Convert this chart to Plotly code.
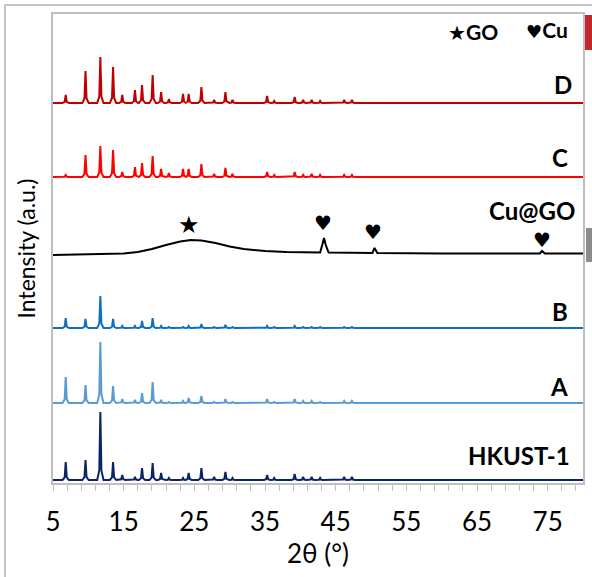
import plotly.graph_objects as go

# ---------------- data ----------------
peak_pos = [6.8, 9.6, 11.7, 13.5, 14.8, 16.6, 17.6, 19.1, 20.3, 21.4, 23.4, 24.2,
            26.0, 27.8, 29.4, 30.4, 35.3, 36.3, 39.2, 40.4, 41.6, 42.8, 46.2, 47.3]

hkust_h = [18, 20, 68, 18, 5, 3, 12, 17, 7, 2, 2, 7, 12, 3, 8, 2, 5, 2, 6, 3, 3, 2, 3, 3]
a_h     = [26, 18, 61, 17, 4, 3, 10, 21, 3, 1, 2, 5, 7, 1, 4, 1, 4, 1, 4, 2, 2, 1, 2, 2]
b_h     = [10, 9, 32, 9, 2, 2, 7, 10, 2, 1, 1, 2, 4, 1, 3, 1, 2, 1, 2, 1, 1, 1, 1, 1]
c_h     = [2, 22, 31, 27, 5, 10, 14, 21, 8, 4, 8, 8, 13, 3, 9, 3, 5, 2, 5, 2, 3, 2, 2, 2]
d_h     = [8, 32, 46, 36, 8, 13, 18, 28, 11, 4, 9, 9, 16, 3, 11, 3, 7, 2, 6, 3, 3, 2, 3, 3]

# vertical offsets of each pattern (a.u.)
offsets = {"HKUST-1": 3, "A": 80, "B": 155, "C": 306, "D": 380}

# Cu@GO pattern (explicit points)
cugo_x = [5, 10, 15, 17, 19, 21, 23, 24.5, 26, 28, 30, 32, 35, 38, 42.8, 43.1, 43.35,
          43.6, 44.0, 50.2, 50.5, 50.9, 60, 73.9, 74.2, 74.6, 80]
cugo_y = [228, 228.5, 229.5, 231, 234, 238, 241.5, 243, 242.5, 240, 236.5, 234, 232,
          231, 230.5, 238, 245, 238, 230.5, 230, 235, 230, 229.5, 229.5, 232, 229.5, 229.5]

# markers
go_mark = (24.3, 258)
cu_marks_x = [43.2, 50.3, 74.2]
cu_marks_y = [260, 251, 243]

x_ticks = [5, 15, 25, 35, 45, 55, 65, 75]

# ---------------- styling ----------------
W, H = 592, 577
L, R, T, B = 53, 9, 14, 94
FONT = "Lato"
GRID = "#BFBFBF"

prof_dx = [-0.45, -0.15, 0, 0.15, 0.45]
prof_f = [0, 0.14, 1, 0.14, 0]


def pattern(heights, base):
    xs, ys = [5.0], [base]
    for p, h in zip(peak_pos, heights):
        for dx, f in zip(prof_dx, prof_f):
            xs.append(p + dx)
            ys.append(base + h * f)
    xs.append(80.0)
    ys.append(base)
    return xs, ys


fig = go.Figure()
series = [("HKUST-1", hkust_h, "#0B2465"), ("A", a_h, "#5B9BD5"),
          ("B", b_h, "#1070C0"), ("C", c_h, "#FF0000"), ("D", d_h, "#C00000")]
for name, hs, col in series:
    xs, ys = pattern(hs, offsets[name])
    fig.add_trace(go.Scatter(x=xs, y=ys, mode="lines", name=name,
                             line=dict(color=col, width=2)))
fig.add_trace(go.Scatter(x=cugo_x, y=cugo_y, mode="lines", name="Cu@GO",
                         line=dict(color="black", width=2)))

fig.update_layout(
    width=W, height=H, margin=dict(l=L, r=R, t=T, b=B),
    paper_bgcolor="white", plot_bgcolor="white", showlegend=False,
    font=dict(family=FONT, color="black"),
    xaxis=dict(range=[5, 80], tickvals=x_ticks, ticks="outside", ticklen=6,
               tickcolor=GRID, showline=True, linecolor=GRID, linewidth=1.5,
               mirror=True, showgrid=False, zeroline=False, automargin=False,
               tickfont=dict(size=26, family=FONT), ticklabelstandoff=9,
               minor=dict(tick0=5, dtick=2, ticks="outside", ticklen=6, tickcolor=GRID),
               title=dict(text="2θ (°)", font=dict(size=26, family=FONT), standoff=1)),
    yaxis=dict(range=[0, 469], showticklabels=False, ticks="", showline=True,
               linecolor=GRID, linewidth=1.5, mirror=True, showgrid=False,
               zeroline=False, automargin=False,
               title=dict(text="Intensity (a.u.)", font=dict(size=23, family=FONT),
                          standoff=9)),
)


def px2x(px):
    return (px - L) / (W - L - R)


def py2y(py):
    return (H - B - py) / (H - T - B)


labels = [("D", 574, 84), ("C", 570, 158), ("Cu@GO", 577, 210), ("B", 570, 311),
          ("A", 570, 386), ("HKUST-1", 572, 455)]
for txt, px, py in labels:
    fig.add_annotation(x=px2x(px), y=py2y(py), xref="paper", yref="paper", text=f"<b>{txt}</b>",
                       showarrow=False, xanchor="right", yanchor="middle",
                       font=dict(size=24, family=FONT, color="black"))

fig.add_annotation(x=go_mark[0], y=go_mark[1], text="★", showarrow=False,
                   font=dict(size=24, color="black", family="DejaVu Sans"))
for hx, hy in zip(cu_marks_x, cu_marks_y):
    fig.add_annotation(x=hx, y=hy, text="♥", showarrow=False,
                       font=dict(size=20, color="black", family="DejaVu Sans"))

fig.add_annotation(x=px2x(500), y=py2y(32), xref="paper", yref="paper",
                   text="<span style='font-family:DejaVu Sans;font-size:20px'>★</span><b>GO</b>",
                   showarrow=False, xanchor="right", yanchor="middle",
                   font=dict(size=21, family=FONT, color="black"))
fig.add_annotation(x=px2x(570), y=py2y(30), xref="paper", yref="paper",
                   text="<span style='font-family:DejaVu Sans;font-size:18px'>♥</span><b>Cu</b>",
                   showarrow=False, xanchor="right", yanchor="middle",
                   font=dict(size=21, family=FONT, color="black"))

# cropped bars at the right edge
fig.add_shape(type="rect", xref="paper", yref="paper", x0=px2x(585), x1=px2x(593),
              y0=py2y(50), y1=py2y(15), line=dict(width=0), fillcolor="#C0282B")
fig.add_shape(type="rect", xref="paper", yref="paper", x0=px2x(586), x1=px2x(593),
              y0=py2y(262), y1=py2y(228), line=dict(width=0), fillcolor="#8C8C8C")

# page setup: no body margin, plus the thin outer frame seen at the top-left edges
post = (
    "document.body.style.margin='0px';"
    "document.body.style.overflow='hidden';"
    "var d=document.createElement('div');"
    "d.style.cssText='position:absolute;left:4px;top:4px;width:586px;height:571px;"
    "border-left:2px solid #C4C4C4;border-top:2px solid #C4C4C4;pointer-events:none;';"
    "document.body.appendChild(d);"
)
fig.write_html("out.html", config={"displayModeBar": False}, post_script=post)
